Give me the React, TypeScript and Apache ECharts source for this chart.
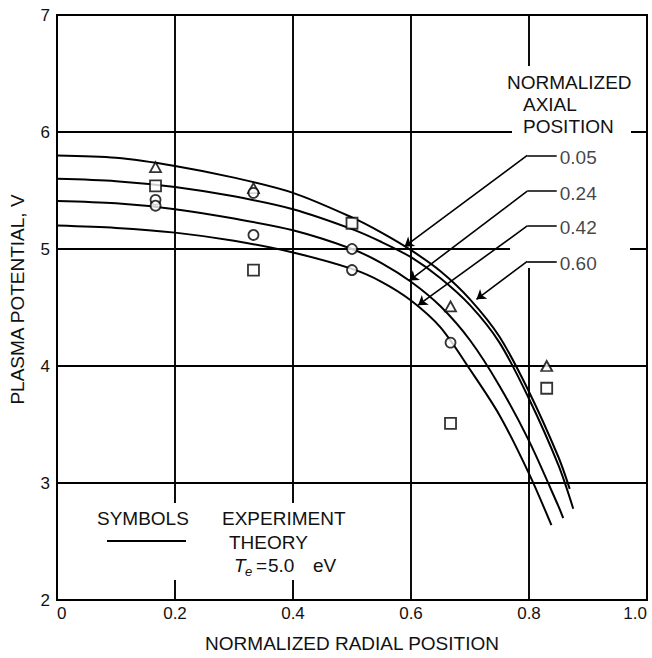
import React, { useEffect, useRef } from "react";
import * as echarts from "echarts";

// ---- data ----
const xTickLabels = ["0", "0.2", "0.4", "0.6", "0.8", "1.0"];
const yTickLabels = ["2", "3", "4", "5", "6", "7"];

// theory curves (normalized radial position, plasma potential V)
const curveA = [[0, 5.8], [0.1, 5.78], [0.2, 5.71], [0.3, 5.61], [0.4, 5.48], [0.5, 5.27], [0.55, 5.14], [0.6, 4.99], [0.65, 4.81], [0.7, 4.57], [0.75, 4.25], [0.8, 3.78], [0.85, 3.22], [0.869, 2.95]];
const curveB = [[0, 5.6], [0.1, 5.58], [0.2, 5.53], [0.3, 5.45], [0.4, 5.34], [0.5, 5.17], [0.55, 5.06], [0.6, 4.93], [0.65, 4.75], [0.7, 4.52], [0.75, 4.2], [0.8, 3.72], [0.85, 3.15], [0.875, 2.78]];
const curveC = [[0, 5.41], [0.1, 5.39], [0.2, 5.34], [0.3, 5.26], [0.4, 5.16], [0.5, 5.0], [0.55, 4.88], [0.6, 4.72], [0.65, 4.51], [0.7, 4.22], [0.75, 3.83], [0.8, 3.36], [0.85, 2.8], [0.858, 2.7]];
const curveD = [[0, 5.2], [0.1, 5.18], [0.2, 5.14], [0.3, 5.07], [0.4, 4.97], [0.5, 4.83], [0.55, 4.72], [0.6, 4.56], [0.65, 4.33], [0.7, 3.97], [0.75, 3.58], [0.8, 3.08], [0.838, 2.64]];

// experimental symbols
const triangles = [[0.167, 5.7], [0.333, 5.52], [0.667, 4.51], [0.83, 4.0]];
const squares = [[0.167, 5.54], [0.333, 4.82], [0.5, 5.22], [0.667, 3.51], [0.83, 3.81]];
const circles = [[0.167, 5.42], [0.167, 5.37], [0.333, 5.48], [0.333, 5.12], [0.5, 5.0], [0.5, 4.82], [0.667, 4.2]];

// axial position labels and their leader arrows
const axialLabels = ["0.05", "0.24", "0.42", "0.60"];
const leaderV = [5.8, 5.495, 5.197, 4.894];
const arrowTips = [[0.589, 5.02], [0.597, 4.73], [0.612, 4.52], [0.711, 4.57]];

// ---- layout ----
const G = { left: 57, top: 15, width: 590, height: 587 };
const X0 = 0, X1 = 1, Y0 = 2, Y1 = 7;
const px = (x: number) => G.left + ((x - X0) / (X1 - X0)) * G.width;
const py = (v: number) => G.top + G.height - ((v - Y0) / (Y1 - Y0)) * G.height;
const ELBOW_X = 0.797;
const LEAD_END_X = 0.847;
const FONT = '"Liberation Sans", Arial, Helvetica, sans-serif';
const INK = "#111";

function txt(text: string, x: number, y: number, size = 19, style = "normal") {
  return {
    type: "text",
    x,
    y,
    z: 10,
    style: {
      text,
      fill: INK,
      font: `${style} ${size}px ${FONT}`,
      align: "left",
      textAlign: "left",
      verticalAlign: "middle",
      textVerticalAlign: "middle",
    },
  };
}

function gapRect(x: number, y: number, w: number, h: number) {
  return { type: "rect", z: 1, shape: { x, y, width: w, height: h }, style: { fill: "#fff" } };
}

export default function App() {
  const ref = useRef<HTMLDivElement>(null);
  useEffect(() => {
    const chart = echarts.init(ref.current!, null, { renderer: "svg" });
    const curveSeries = [curveA, curveB, curveC, curveD].map((d, i) => ({
      type: "line",
      name: "theory" + i,
      data: d,
      smooth: 0.3,
      showSymbol: false,
      symbol: "none",
      lineStyle: { color: "#000", width: 2 },
      z: 2,
      silent: true,
    }));
    const symStyle = { color: "#fff", borderColor: "#000", borderWidth: 1.8 };
    const option: any = {
      animation: false,
      backgroundColor: "#fff",
      grid: { ...G, show: true, borderColor: "#000", borderWidth: 2, backgroundColor: "transparent" },
      xAxis: {
        type: "value",
        min: X0,
        max: X1,
        interval: 0.2,
        name: "NORMALIZED RADIAL POSITION",
        nameLocation: "middle",
        nameGap: 34,
        nameTextStyle: { fontSize: 19, color: INK, fontFamily: FONT },
        axisLine: { show: false },
        axisTick: { show: false },
        splitLine: { show: true, lineStyle: { color: "#000", width: 1.9 } },
        axisLabel: {
          fontSize: 17,
          color: INK,
          fontFamily: FONT,
          margin: 5,
          alignMinLabel: "left",
          alignMaxLabel: "right",
          formatter: (v: number) => xTickLabels[Math.round(v / 0.2)] ?? "",
        },
      },
      yAxis: {
        type: "value",
        min: Y0,
        max: Y1,
        interval: 1,
        name: "PLASMA POTENTIAL, V",
        nameLocation: "middle",
        nameRotate: 90,
        nameGap: 30,
        nameTextStyle: { fontSize: 19, color: INK, fontFamily: FONT, padding: [0, 0, 0, 16] },
        axisLine: { show: false },
        axisTick: { show: false },
        splitLine: { show: true, lineStyle: { color: "#000", width: 1.9 } },
        axisLabel: {
          fontSize: 17,
          color: INK,
          fontFamily: FONT,
          margin: 7,
          formatter: (v: number) => yTickLabels[Math.round(v - Y0)] ?? "",
        },
      },
      series: [
        ...curveSeries,
        {
          type: "scatter",
          name: "triangles",
          data: triangles,
          symbol: "triangle",
          symbolSize: [11, 10],
          itemStyle: symStyle,
          z: 4,
        },
        {
          type: "scatter",
          name: "squares",
          data: squares,
          symbol: "rect",
          symbolSize: 11,
          itemStyle: symStyle,
          z: 4,
        },
        {
          type: "scatter",
          name: "circles",
          data: circles,
          symbol: "circle",
          symbolSize: 10,
          itemStyle: symStyle,
          z: 4,
        },
        {
          type: "lines",
          coordinateSystem: "cartesian2d",
          data: leaderV.map((v) => ({ coords: [[ELBOW_X, v], [LEAD_END_X, v]] })),
          symbol: "none",
          lineStyle: { color: "#000", width: 1.6, opacity: 1 },
          z: 3,
          silent: true,
        },
        {
          type: "lines",
          coordinateSystem: "cartesian2d",
          data: leaderV.map((v, i) => ({ coords: [[ELBOW_X, v], arrowTips[i]] })),
          symbol: ["none", "arrow"],
          symbolSize: 9,
          lineStyle: { color: "#000", width: 1.6, opacity: 1 },
          itemStyle: { color: "#000" },
          z: 3,
          silent: true,
        },
        {
          type: "scatter",
          name: "axialLabels",
          data: leaderV.map((v, i) => ({ value: [LEAD_END_X, v], name: axialLabels[i] })),
          symbolSize: 0,
          silent: true,
          label: {
            show: true,
            position: "right",
            distance: 3,
            offset: [0, 2],
            formatter: (p: any) => p.name,
            fontSize: 19,
            color: INK,
            fontFamily: FONT,
          },
          z: 5,
        },
      ],
      graphic: [
        // interruptions of the grid lines behind the lettering
        gapRect(px(0.8) - 4, 66, 8, 202),
        gapRect(512, py(6) - 4, 119, 8),
        gapRect(510, py(5) - 4, 120, 8),
        gapRect(px(0.2) - 4, 503, 8, 77),
        gapRect(px(0.4) - 4, 503, 8, 77),
        txt("NORMALIZED", 507, 82),
        txt("AXIAL", 523, 104),
        txt("POSITION", 523, 126),
        txt("SYMBOLS", 97, 518),
        txt("EXPERIMENT", 222, 518),
        txt("THEORY", 229, 542),
        {
          type: "line",
          z: 10,
          shape: { x1: 107, y1: 541, x2: 186, y2: 541 },
          style: { stroke: "#000", lineWidth: 1.8 },
        },
        txt("T", 234, 565, 19, "italic"),
        txt("e", 245, 571, 13, "italic"),
        txt("=", 256, 565),
        txt("5.0", 268, 565),
        txt("eV", 313, 565),
      ],
    };
    chart.setOption(option);
    return () => chart.dispose();
  }, []);
  return (
    <div
      ref={ref}
      style={{ position: "fixed", left: 0, top: 0, width: 652, height: 658, background: "#fff" }}
    />
  );
}
